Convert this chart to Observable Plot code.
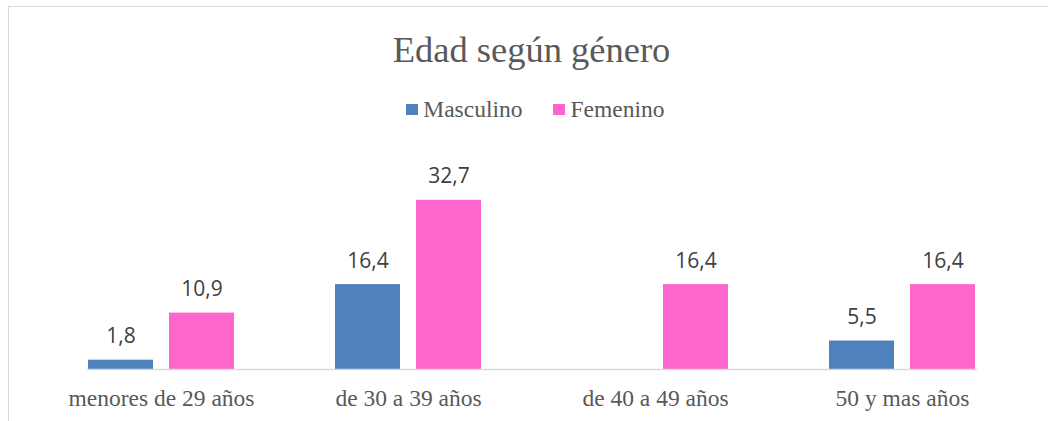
<!DOCTYPE html>
<html>
<head>
<meta charset="utf-8">
<script src="https://cdn.jsdelivr.net/npm/d3@7"></script>
<script src="https://cdn.jsdelivr.net/npm/@observablehq/plot@0.6"></script>
<style>
  html, body { margin: 0; padding: 0; background: #fff; }
  #wrap { position: relative; width: 1048px; height: 421px; overflow: hidden; background: #fff; }
  #frame { position: absolute; left: 8px; top: 6px; width: 1200px; height: 600px; border: 1px solid #d9d9d9; box-sizing: border-box; z-index: 2; pointer-events: none; }
  #title { position: absolute; left: 0; top: 31.7px; width: 1063px; text-align: center; font-family: "Liberation Serif", serif; font-size: 36.5px; line-height: 36.5px; color: #595959; white-space: nowrap; z-index: 3; }
  #legend { position: absolute; left: 406px; top: 97.6px; display: flex; align-items: center; font-family: "Liberation Serif", serif; font-size: 23.5px; line-height: 23.5px; color: #595959; white-space: nowrap; z-index: 3; }
  .sw { display: inline-block; width: 11.7px; height: 11.7px; margin-right: 5.6px; }
  .item { display: flex; align-items: center; margin-right: 30.7px; }
  #chart { position: absolute; left: 0; top: 0; z-index: 1; }
</style>
</head>
<body>
<div id="wrap">
  <div id="frame"></div>
  <div id="title">Edad según género</div>
  <div id="legend"></div>
  <div id="chart"></div>
</div>
<script>
const categories = ["menores de 29 años", "de 30 a 39 años", "de 40 a 49 años", "50 y mas años"];
const series = ["Masculino", "Femenino"];
const masculino = [1.8, 16.4, null, 5.5];
const femenino = [10.9, 32.7, 16.4, 16.4];
const colors = ["#4F81BD", "#FF66CC"];

const seriesValues = [masculino, femenino];
const data = [];
categories.forEach((c, i) => {
  series.forEach((s, j) => {
    const v = seriesValues[j][i];
    if (v != null) data.push({cat: c, serie: s, value: v});
  });
});

const fmt = v => v.toFixed(1).replace(".", ",");

// Legend
const legend = document.getElementById("legend");
series.forEach((s, j) => {
  const item = document.createElement("div");
  item.className = "item";
  const sw = document.createElement("span");
  sw.className = "sw";
  sw.style.background = colors[j];
  const label = document.createElement("span");
  label.textContent = s;
  item.appendChild(sw);
  item.appendChild(label);
  legend.appendChild(item);
});

const chart = Plot.plot({
  width: 1048,
  height: 421,
  marginTop: 162,
  marginBottom: 52,
  marginLeft: 38,
  marginRight: 22,
  style: {background: "transparent", overflow: "visible"},
  fx: {domain: categories, paddingInner: 0.4, paddingOuter: 0.2, label: null},
  x: {domain: series, paddingInner: 0.195, paddingOuter: 0, axis: null},
  y: {domain: [0, 40], axis: null},
  color: {domain: series, range: colors},
  marks: [
    Plot.barY(data, {fx: "cat", x: "serie", y: "value", fill: "serie"}),
    Plot.frame({anchor: "bottom", facet: "super", stroke: "#d9d9d9", strokeWidth: 1.5}),
    Plot.text(data, {
      fx: "cat", x: "serie", y: "value", text: d => fmt(d.value),
      lineAnchor: "bottom", dy: -17,
      fontFamily: "Open Sans", fontSize: 21, fill: "#404040"
    }),
    Plot.axisFx({
      anchor: "bottom", tickSize: 0, tickPadding: 20, label: null,
      fontFamily: "Liberation Serif", fontSize: 23.5, color: "#595959"
    })
  ]
});
document.getElementById("chart").appendChild(chart);
</script>
</body>
</html>
